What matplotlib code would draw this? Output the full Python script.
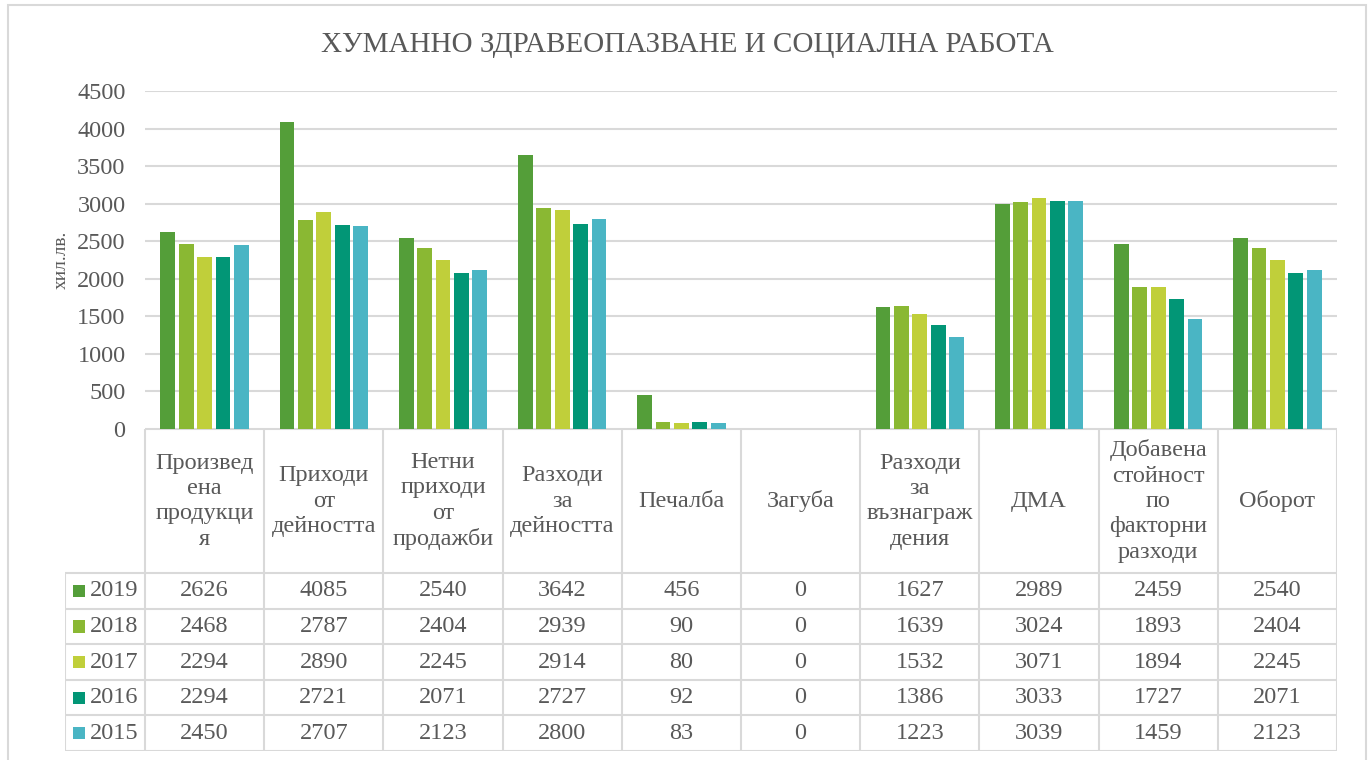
import matplotlib
matplotlib.use("Agg")
import matplotlib.pyplot as plt
from matplotlib.patches import Rectangle

plt.rcParams['font.family'] = 'serif'
plt.rcParams['font.serif'] = ['Liberation Serif', 'DejaVu Serif']
FAM = 'Liberation Serif'

title = "ХУМАННО ЗДРАВЕОПАЗВАНЕ И СОЦИАЛНА РАБОТА"
ylabel = "хил.лв."
categories = ["Произвед\nена\nпродукци\nя", "Приходи\nот\nдейността",
              "Нетни\nприходи\nот\nпродажби", "Разходи\nза\nдейността",
              "Печалба", "Загуба", "Разходи\nза\nвъзнаграж\nдения", "ДМА",
              "Добавена\nстойност\nпо\nфакторни\nразходи", "Оборот"]
years = ["2019", "2018", "2017", "2016", "2015"]
v2019 = [2626, 4085, 2540, 3642, 456, 0, 1627, 2989, 2459, 2540]
v2018 = [2468, 2787, 2404, 2939, 90, 0, 1639, 3024, 1893, 2404]
v2017 = [2294, 2890, 2245, 2914, 80, 0, 1532, 3071, 1894, 2245]
v2016 = [2294, 2721, 2071, 2727, 92, 0, 1386, 3033, 1727, 2071]
v2015 = [2450, 2707, 2123, 2800, 83, 0, 1223, 3039, 1459, 2123]
series = [v2019, v2018, v2017, v2016, v2015]
colors = ["#549E39", "#8AB833", "#C0CF3A", "#029676", "#4AB5C4"]
yticks = [0, 500, 1000, 1500, 2000, 2500, 3000, 3500, 4000, 4500]

W, H = 1370, 760
fig = plt.figure(figsize=(W / 100, H / 100), dpi=100)
txt = "#595959"
grid = "#D9D9D9"
FS = 17.5

def fx(px):
    return px / W

def fy(py):
    return 1 - py / H

# outer border
fig.patches.append(Rectangle((fx(8), fy(765)), fx(1366) - fx(8), fy(5) - fy(765),
                             transform=fig.transFigure, fill=False,
                             edgecolor=grid, linewidth=1.5))

x0, x1 = 145, 1337
ax = fig.add_axes([fx(x0), fy(429), fx(x1) - fx(x0), fy(91) - fy(429)])
n = len(categories)
ax.set_xlim(0, n)
ax.set_ylim(0, 4500)
step = 0.154
bw = 0.124
for j, (vals, c) in enumerate(zip(series, colors)):
    xs = [i + 0.5 + (j - 2) * step for i in range(n)]
    ax.bar(xs, vals, width=bw, color=c, zorder=3, linewidth=0)
ax.set_yticks(yticks)
ax.set_yticklabels([str(t) for t in yticks], fontsize=FS, color=txt, fontfamily=FAM)
ax.tick_params(axis='y', length=0, pad=14)
ax.set_xticks([])
ax.grid(axis='y', color=grid, linewidth=1.5, zorder=0)
for s in ax.spines.values():
    s.set_visible(False)
ax.set_ylabel(ylabel, fontsize=14, color=txt, labelpad=5, fontfamily=FAM)

fig.text(fx(687), fy(45), title, ha='center', va='center', fontsize=21,
         color=txt, fontfamily=FAM)

# data table
tab = fig.add_axes([fx(65), fy(751), fx(x1) - fx(65), fy(429) - fy(751)])
left = -(x0 - 65) / ((x1 - x0) / n)
hdr = 4.05
nrows = len(years)
tab.set_xlim(left, n)
tab.set_ylim(hdr + nrows, 0)
tab.axis('off')
lw = 1.5
tab.plot([0, n], [0, 0], color=grid, lw=lw, solid_capstyle='butt')
for r in range(nrows + 1):
    y = hdr + r
    tab.plot([left, n], [y, y], color=grid, lw=lw, solid_capstyle='butt')
for c in range(n + 1):
    tab.plot([c, c], [0, hdr + nrows], color=grid, lw=lw, solid_capstyle='butt')
tab.plot([left, left], [hdr, hdr + nrows], color=grid, lw=lw, solid_capstyle='butt')

for i, cat in enumerate(categories):
    tab.text(i + 0.5, hdr / 2, cat, ha='center', va='center', fontsize=FS,
             color=txt, linespacing=1.27, fontfamily=FAM)
colw = (x1 - x0) / n
for r, (yr, vals, c) in enumerate(zip(years, series, colors)):
    yc = hdr + r + 0.5
    sq = 12 / colw
    tab.add_patch(Rectangle((left + 8 / colw, yc - 0.17), sq, 0.34,
                            facecolor=c, edgecolor='none'))
    tab.text(left + 25 / colw, yc, yr, ha='left', va='center', fontsize=FS,
             color=txt, fontfamily=FAM)
    for i, v in enumerate(vals):
        tab.text(i + 0.5, yc, str(v), ha='center', va='center', fontsize=FS,
                 color=txt, fontfamily=FAM)

fig.savefig("out.png", dpi=100)
